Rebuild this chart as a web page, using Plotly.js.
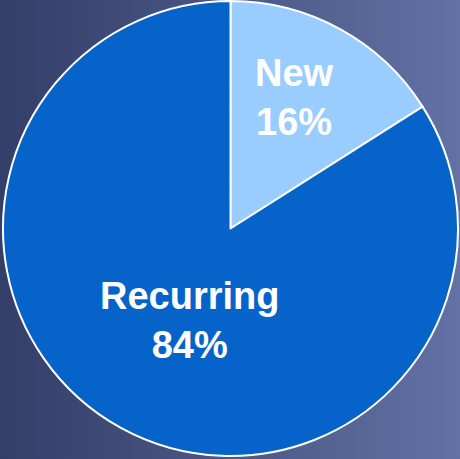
<!DOCTYPE html>
<html>
<head>
<meta charset="utf-8">
<script src="https://cdn.plot.ly/plotly-3.0.1.min.js"></script>
<style>
  html, body { margin: 0; padding: 0; }
  #chart { width: 460px; height: 459px; background: linear-gradient(to right, #333e69 0%, #46527f 40%, #6272a5 100%); }
</style>
</head>
<body>
<div id="chart"></div>
<script>
const categories = ["New", "Recurring"];
const values = [16, 84];
const colors = ["#99ccff", "#0563c9"];

const total = values.reduce((a, b) => a + b, 0);
const labelPos = [ { x: 0.64, y: 0.789 }, { x: 0.409, y: 0.297 } ];

const trace = {
  type: "pie",
  labels: categories,
  values: values,
  sort: false,
  direction: "clockwise",
  rotation: 0,
  marker: { colors: colors, line: { color: "#ffffff", width: 2 } },
  textinfo: "none",
  hoverinfo: "none",
  showlegend: false
};

const annotations = categories.map((c, i) => ({
  text: c + "<br>" + Math.round(values[i] / total * 100) + "%",
  x: labelPos[i].x,
  y: labelPos[i].y,
  xref: "paper",
  yref: "paper",
  xanchor: "center",
  yanchor: "middle",
  showarrow: false,
  align: "center",
  font: { family: "Liberation Sans, Arial, sans-serif", size: 38, color: "#ffffff", weight: "bold" }
}));

const layout = {
  width: 460,
  height: 459,
  margin: { l: 3, r: 2, t: 1, b: 3 },
  paper_bgcolor: "rgba(0,0,0,0)",
  plot_bgcolor: "rgba(0,0,0,0)",
  showlegend: false,
  annotations: annotations
};

Plotly.newPlot("chart", [trace], layout, { displayModeBar: false, staticPlot: true });
</script>
</body>
</html>
